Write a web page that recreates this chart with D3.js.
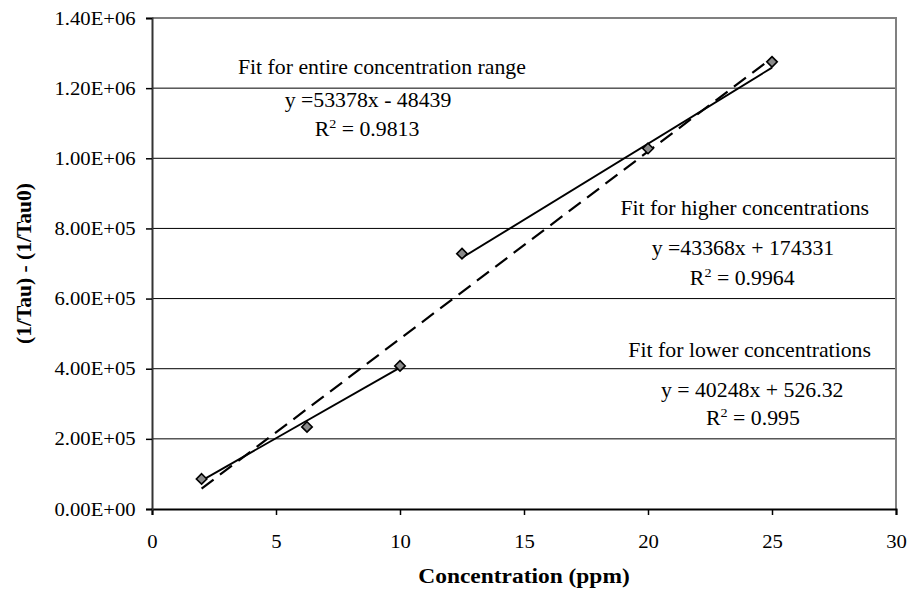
<!DOCTYPE html>
<html>
<head>
<meta charset="utf-8">
<script src="https://cdn.jsdelivr.net/npm/d3@7"></script>
<style>
  body { margin: 0; background: #fff; }
  svg text { font-family: "Liberation Serif", "Times New Roman", serif; fill: #000; }
</style>
</head>
<body>
<svg id="chart" width="912" height="599"></svg>
<script>
// data
const concentration = [2, 6.25, 10, 12.5, 20, 25];
const invTauDiff = [85700, 234000, 408000, 728000, 1028000, 1275000];

// fits as printed on the chart
const fitNames = ["entire", "higher", "lower"];
const fitSlopes = [53378, 43368, 40248];
const fitIntercepts = [-48439, 174331, 526.32];
const fitFrom = [2, 12.5, 2];
const fitTo = [25, 25, 10];

const xTicks = [0, 5, 10, 15, 20, 25, 30];
const yTicks = [0, 200000, 400000, 600000, 800000, 1000000, 1200000, 1400000];

const notes = [
  { text: "Fit for entire concentration range", x: 9.27, y: 1.240e6 },
  { text: "y =53378x - 48439", x: 8.71, y: 1.146e6 },
  { r2: "0.9813", x: 8.67, y: 1.0635e6 },
  { text: "Fit for higher concentrations", x: 23.9, y: 0.838e6 },
  { text: "y =43368x + 174331", x: 23.83, y: 0.724e6 },
  { r2: "0.9964", x: 23.8, y: 0.639e6 },
  { text: "Fit for lower concentrations", x: 24.1, y: 0.433e6 },
  { text: "y = 40248x + 526.32", x: 24.2, y: 0.319e6 },
  { r2: "0.995", x: 24.23, y: 0.2395e6 }
];

const mLeft = 152, mRight = 896, mTop = 18, mBottom = 509;
const stretch = 1.09; // the reference text is a little wide

const svg = d3.select("#chart");

const x = d3.scaleLinear().domain([0, 30]).range([mLeft, mRight]);
const y = d3.scaleLinear().domain([0, 1400000]).range([mBottom, mTop]);

// gridlines
svg.append("g")
    .selectAll("line")
    .data(yTicks.slice(1, -1))
    .enter()
    .append("line")
    .attr("x1", mLeft).attr("x2", mRight)
    .attr("y1", d => y(d)).attr("y2", d => y(d))
    .attr("stroke", "#000").attr("stroke-width", 1);

// frame top and right (grey)
svg.append("path")
    .attr("d", `M${mLeft},${y(1400000)}H${mRight}V${mBottom}`)
    .attr("fill", "none").attr("stroke", "#808080").attr("stroke-width", 2);

// axes
const xAxis = svg.append("g")
    .attr("transform", `translate(0,${mBottom})`)
    .call(d3.axisBottom(x).tickValues(xTicks).tickSize(6).tickPadding(20).tickFormat(d3.format("d")));
xAxis.select(".domain").attr("stroke", "#000").attr("stroke-width", 2);
xAxis.selectAll(".tick line").attr("stroke-width", 1.5);
xAxis.selectAll("text")
    .attr("font-size", 19).attr("font-family", "Liberation Serif")
    .attr("transform", `scale(${stretch},1)`);

const yAxis = svg.append("g")
    .attr("transform", `translate(${mLeft},0)`)
    .call(d3.axisLeft(y).tickValues(yTicks).tickSize(6).tickPadding(9)
        .tickFormat(d => {
            const s = d3.format(".2e")(d).toUpperCase();
            return s.replace(/E([+-])(\d)$/, "E$10$2");
        }));
yAxis.select(".domain").attr("stroke", "#333").attr("stroke-width", 2);
yAxis.selectAll(".tick line").attr("stroke-width", 1.5);
yAxis.selectAll("text")
    .attr("font-size", 19).attr("font-family", "Liberation Serif")
    .attr("transform", `scale(${stretch},1)`);

// axis titles
svg.append("text")
    .attr("transform", `translate(${(mLeft + mRight) / 2},583) scale(${stretch},1)`)
    .attr("text-anchor", "middle")
    .attr("font-size", 21.5).attr("font-weight", "bold")
    .text("Concentration (ppm)");

svg.append("text")
    .attr("transform", `translate(31,${(mTop + mBottom) / 2}) rotate(-90)`)
    .attr("text-anchor", "middle")
    .attr("font-size", 21.5).attr("font-weight", "bold")
    .text("(1/Tau) - (1/Tau0)");

// fit lines
const fits = fitNames.map((n, i) => ({
    name: n,
    pts: [fitFrom[i], fitTo[i]].map(c => [c, fitSlopes[i] * c + fitIntercepts[i]])
}));

const line = d3.line().x(d => x(d[0])).y(d => y(d[1]));

svg.append("g")
    .selectAll("path")
    .data(fits)
    .enter()
    .append("path")
    .attr("d", d => line(d.pts))
    .attr("fill", "none")
    .attr("stroke", "#000")
    .attr("stroke-width", d => d.name == "entire" ? 2.2 : 1.9)
    .attr("stroke-dasharray", d => d.name == "entire" ? "15,8" : null);

// markers
svg.append("g")
    .selectAll("path")
    .data(concentration)
    .enter()
    .append("path")
    .attr("transform", (d, i) => `translate(${x(d)},${y(invTauDiff[i])})`)
    .attr("d", d3.symbol().type(d3.symbolDiamond2).size(70))
    .attr("fill", "#8a8a8a")
    .attr("stroke", "#000")
    .attr("stroke-width", 1.6);

// annotations
const ann = svg.append("g");
notes.forEach(n => {
    const t = ann.append("text")
        .attr("transform", `translate(${x(n.x)},${y(n.y)}) scale(${stretch},1)`)
        .attr("text-anchor", "middle")
        .attr("font-size", 20);
    if (n.r2) {
        t.append("tspan").text("R");
        t.append("tspan").attr("dy", -8).attr("font-size", 13).text("2");
        t.append("tspan").attr("dy", 8).text(" = " + n.r2);
    } else {
        t.text(n.text);
    }
});
</script>
</body>
</html>
